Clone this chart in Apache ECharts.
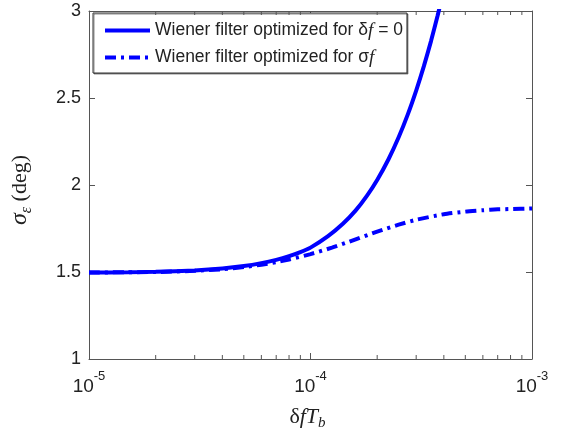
<!DOCTYPE html>
<html>
<head>
<meta charset="utf-8">
<script src="https://cdn.jsdelivr.net/npm/echarts@6/dist/echarts.min.js"></script>
<style>
  html, body { margin: 0; padding: 0; background: #fff; }
  #chart { width: 566px; height: 436px; }
</style>
</head>
<body>
<div id="chart"></div>
<script>
// Frequency offset (normalised, δf·Tb) sample points
const xSolid = [1e-5, 1.5e-5, 2e-5, 3e-5, 4e-5, 5e-5, 6e-5, 7e-5, 8e-5, 9e-5, 1e-4, 1.2e-4, 1.4e-4, 1.6e-4, 1.8e-4, 2e-4, 2.25e-4, 2.5e-4, 2.75e-4, 3e-4, 3.25e-4, 3.5e-4, 3.75e-4, 4e-4];
// Phase error std (deg) for the filter tuned at δf = 0
const ySolid = [1.497, 1.498, 1.501, 1.509, 1.520, 1.534, 1.551, 1.570, 1.591, 1.614, 1.640, 1.706, 1.777, 1.854, 1.939, 2.029, 2.148, 2.274, 2.406, 2.543, 2.683, 2.827, 2.974, 3.123];

const xDash = [1e-5, 2e-5, 3e-5, 4e-5, 5e-5, 6e-5, 7e-5, 8e-5, 1e-4, 1.25e-4, 1.5e-4, 2e-4, 2.5e-4, 3e-4, 4e-4, 5e-4, 6e-4, 7e-4, 8e-4, 1e-3];
// Phase error std (deg) for the filter tuned for σf
const yDash = [1.497, 1.500, 1.507, 1.516, 1.528, 1.542, 1.556, 1.572, 1.603, 1.640, 1.675, 1.732, 1.772, 1.800, 1.832, 1.847, 1.855, 1.860, 1.862, 1.865];

const seriesNames = ['Wiener filter optimized for δf = 0', 'Wiener filter optimized for σf'];

const xRange = [1e-5, 1e-3];
const yRange = [1, 3];
const yTicks = [1, 1.5, 2, 2.5, 3];
const xMinorTicks = [2e-5, 3e-5, 4e-5, 5e-5, 6e-5, 7e-5, 8e-5, 9e-5, 2e-4, 3e-4, 4e-4, 5e-4, 6e-4, 7e-4, 8e-4, 9e-4];

const axisColor = '#555';
const textColor = '#222';
const blue = '#0000ff';
const sans = 'Liberation Sans, Arial';
const serif = 'Liberation Serif, Times New Roman';

function zip(xs, ys) { return xs.map((x, i) => [x, ys[i]]); }

function expLabel(v) {
  const e = Math.round(Math.log10(v));
  return '{b|10}{s|' + e + '}';
}

const chart = echarts.init(document.getElementById('chart'), null, { renderer: 'canvas' });

const option = {
  animation: false,
  backgroundColor: '#fff',
  grid: { left: 89, right: 34, top: 11, bottom: 72, containLabel: false },
  legend: {
    data: seriesNames,
    left: 93, top: 13,
    orient: 'vertical',
    itemWidth: 45, itemHeight: 18, itemGap: 8,
    padding: [8, 4, 6, 10],
    borderColor: '#333', borderWidth: 1,
    backgroundColor: '#fff',
    shadowColor: 'rgba(0,0,0,0.45)', shadowOffsetX: 1, shadowOffsetY: 1, shadowBlur: 0,
    itemStyle: { opacity: 0 },
    lineStyle: { width: 4, type: 'inherit', color: blue },
    textStyle: {
      fontFamily: sans, fontSize: 17.5, color: textColor,
      rich: {
        a: { fontFamily: sans, fontSize: 17.5, color: textColor },
        i: { fontFamily: serif, fontStyle: 'italic', fontSize: 19, color: textColor }
      }
    },
    formatter: function (name) {
      if (name === seriesNames[0]) return '{a|Wiener filter optimized for δ}{i|f}{a| = 0}';
      return '{a|Wiener filter optimized for σ}{i|f}';
    }
  },
  xAxis: [{
    type: 'log', logBase: 10, min: xRange[0], max: xRange[1],
    position: 'bottom',
    name: '{d|δ}{i|fT}{sub|b}',
    nameLocation: 'middle', nameGap: 45,
    nameTextStyle: {
      padding: [0, 6, 0, 0],
      rich: {
        d: { fontFamily: serif, fontSize: 22, color: textColor },
        i: { fontFamily: serif, fontStyle: 'italic', fontSize: 22, color: textColor },
        sub: { fontFamily: serif, fontStyle: 'italic', fontSize: 15, color: textColor, verticalAlign: 'bottom', padding: [12, 0, 0, 0] }
      }
    },
    axisLine: { show: true, onZero: false, lineStyle: { color: axisColor, width: 1 } },
    axisTick: { show: true, inside: true, length: 6, lineStyle: { color: axisColor } },
    splitLine: { show: false },
    axisLabel: {
      margin: 11,
      formatter: expLabel,
      rich: {
        b: { fontFamily: sans, fontSize: 19, color: textColor, padding: [7, 0, 0, 0] },
        s: { fontFamily: sans, fontSize: 13, color: textColor, verticalAlign: 'top', padding: [0, 0, 12, 0] }
      }
    }
  }, {
    type: 'log', logBase: 10, min: xRange[0], max: xRange[1],
    position: 'top',
    axisLine: { show: true, onZero: false, lineStyle: { color: axisColor, width: 1 } },
    axisTick: { show: true, inside: true, length: 6, lineStyle: { color: axisColor } },
    axisLabel: { show: false },
    splitLine: { show: false }
  }],
  yAxis: [{
    type: 'value', min: yRange[0], max: yRange[1], interval: 0.5,
    position: 'left',
    name: '{s|σ}{e|ε}{t| (deg)}',
    nameLocation: 'middle', nameGap: 54, nameRotate: 90,
    nameTextStyle: {
      padding: [0, 10, 0, 0],
      rich: {
        s: { fontFamily: serif, fontStyle: 'italic', fontSize: 24, color: textColor },
        e: { fontFamily: serif, fontStyle: 'italic', fontSize: 16, color: textColor, verticalAlign: 'bottom', padding: [14, 0, 0, 0] },
        t: { fontFamily: serif, fontSize: 22, color: textColor }
      }
    },
    axisLine: { show: true, onZero: false, lineStyle: { color: axisColor, width: 1 } },
    axisTick: { show: true, inside: true, length: 6, lineStyle: { color: axisColor } },
    splitLine: { show: false },
    axisLabel: {
      margin: 8, fontFamily: sans, fontSize: 18, color: textColor,
      formatter: function (v) { return yTicks.indexOf(v) >= 0 ? String(v) : ''; }
    }
  }, {
    type: 'value', min: yRange[0], max: yRange[1], interval: 0.5,
    position: 'right',
    axisLine: { show: true, onZero: false, lineStyle: { color: axisColor, width: 1 } },
    axisTick: { show: true, inside: true, length: 6, lineStyle: { color: axisColor } },
    axisLabel: { show: false },
    splitLine: { show: false }
  }],
  series: [{
    name: seriesNames[0],
    type: 'line',
    data: zip(xSolid, ySolid),
    showSymbol: false, symbol: 'none',
    smooth: 0.2,
    clip: true,
    lineStyle: { color: blue, width: 4 },
    itemStyle: { color: blue },
    z: 3
  }, {
    name: seriesNames[1],
    type: 'line',
    data: zip(xDash, yDash),
    showSymbol: false, symbol: 'none',
    smooth: 0.2,
    clip: true,
    lineStyle: { color: blue, width: 4, type: [11, 5, 3, 5], cap: 'butt' },
    itemStyle: { color: blue },
    z: 3
  }, {
    // logarithmic minor ticks on the bottom and top frame edges
    type: 'custom',
    data: xMinorTicks.map(v => [v]),
    silent: true,
    z: 4,
    renderItem: function (params, api) {
      const v = api.value(0);
      const b = api.coord([v, yRange[0]]);
      const t = api.coord([v, yRange[1]]);
      const style = { stroke: axisColor, lineWidth: 1 };
      return {
        type: 'group',
        children: [
          { type: 'line', shape: { x1: b[0], y1: b[1], x2: b[0], y2: b[1] - 4 }, style: style },
          { type: 'line', shape: { x1: t[0], y1: t[1], x2: t[0], y2: t[1] + 4 }, style: style }
        ]
      };
    }
  }]
};

chart.setOption(option);
</script>
</body>
</html>
